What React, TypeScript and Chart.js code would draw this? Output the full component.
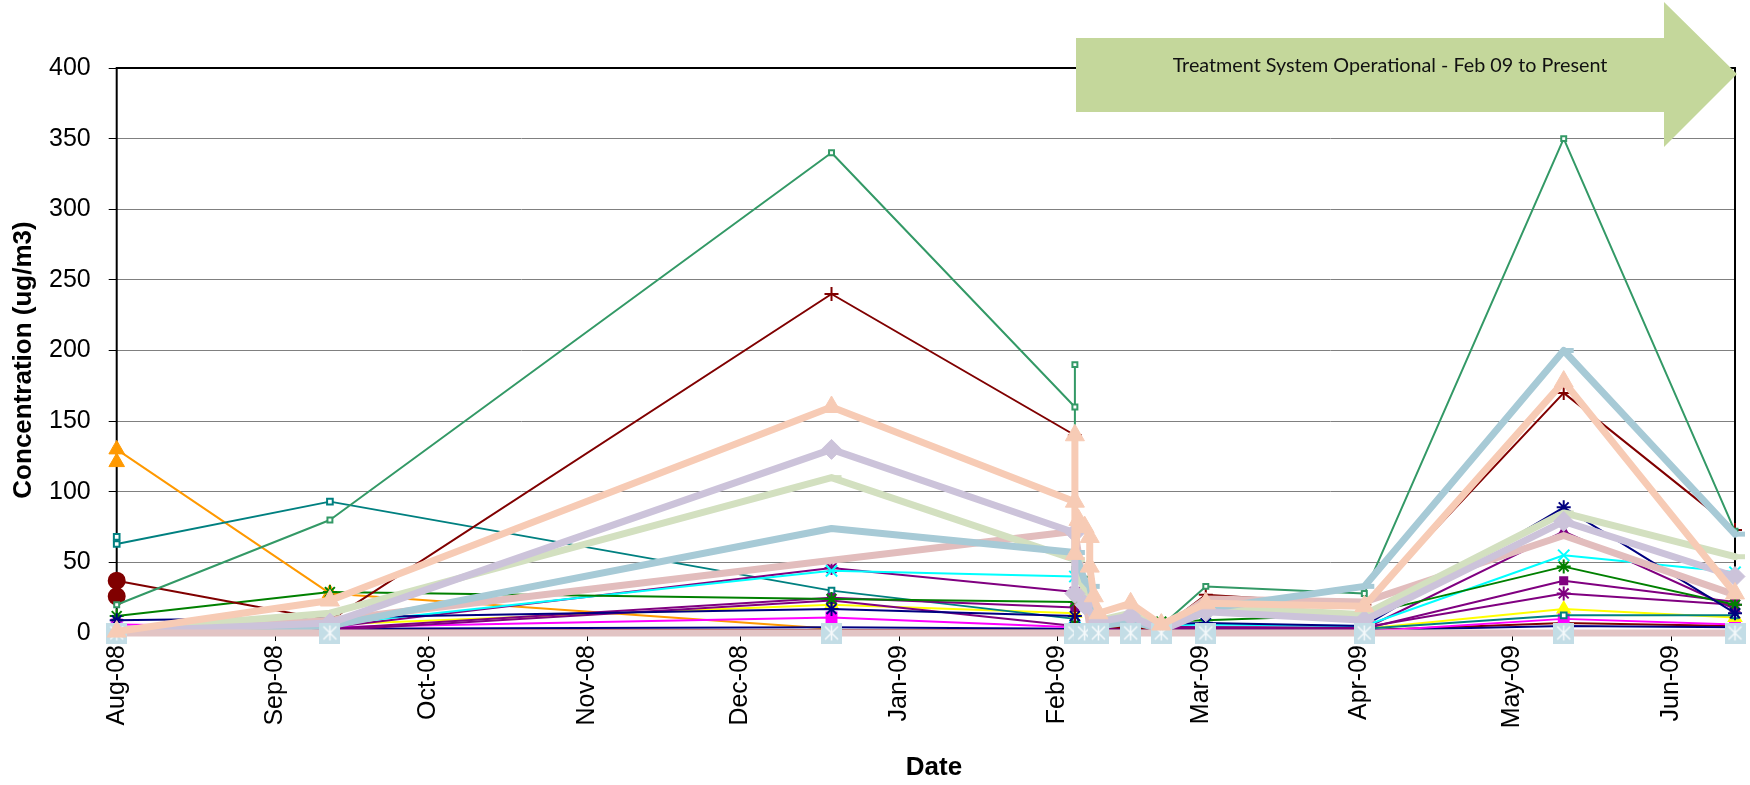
import React, { useEffect, useRef } from 'react';
import { Chart, registerables } from 'chart.js';

Chart.register(...registerables);

// Sampling dates as days after 1 Aug 2008
const AUG = 0;
const SEP = 41.7;
const DEC = 139.8;
const FEB = 187.4;
const MAR = 213;
const APR = 244;
const MAY = 283;
const JUN = 316.5;

const monthTickDays = [0, 31, 61, 92, 122, 153, 184, 212, 243, 273, 304];
const monthTickLabels = ['Aug-08', 'Sep-08', 'Oct-08', 'Nov-08', 'Dec-08', 'Jan-09', 'Feb-09', 'Mar-09', 'Apr-09', 'May-09', 'Jun-09'];
const yTickValues = [0, 50, 100, 150, 200, 250, 300, 350, 400];

// [day, concentration ug/m3]
const peachSeries: [number, number][] = [[AUG, 1], [SEP, 23], [DEC, 160], [FEB, 93], [FEB, 140], [FEB, 56], [188.1, 80], [189.3, 75], [190.3, 68], [190.3, 47], [191.1, 26], [192, 14], [198.3, 21], [204.3, 6], [MAR, 21], [APR, 19], [MAY, 178], [JUN, 28]];
const zeroSeries: [number, number][] = [[AUG, 0], [SEP, 0], [DEC, 0], [FEB, 0], [189.3, 0], [192, 0], [198.3, 0], [204.3, 0], [MAR, 0], [APR, 0], [MAY, 0], [JUN, 0]];
const lavenderSeries: [number, number][] = [[AUG, 1], [SEP, 7], [DEC, 130], [FEB, 71], [FEB, 28], [189.3, 20], [192, 8], [198.3, 12], [204.3, 2], [MAR, 15], [APR, 9], [MAY, 79], [JUN, 40]];
const lightBlueSeries: [number, number][] = [[AUG, 1], [SEP, 5], [DEC, 74], [FEB, 57], [189.3, 37], [190.3, 33], [192, 5], [198.3, 8], [204.3, 3], [MAR, 17], [APR, 33], [MAY, 200], [JUN, 70]];
const lightGreenSeries: [number, number][] = [[AUG, 2], [SEP, 14], [DEC, 110], [FEB, 52], [FEB, 42], [189.3, 32], [191.1, 8], [198.3, 14], [204.3, 3], [MAR, 19], [APR, 13], [MAY, 85], [JUN, 54]];
const pinkSeries: [number, number][] = [[AUG, 0], [SEP, 9], [FEB, 72], [190.3, 5], [198.3, 10], [204.3, 2], [MAR, 24], [APR, 22], [MAY, 69], [JUN, 27]];
const seaGreenSeries: [number, number][] = [[AUG, 20], [SEP, 80], [DEC, 340], [FEB, 160], [FEB, 190], [FEB, 45], [189.7, 38], [192, 10], [204.3, 5], [MAR, 33], [APR, 28], [MAY, 350], [JUN, 72]];
const darkRedSeries: [number, number][] = [[AUG, 26], [AUG, 37], [SEP, 9], [DEC, 240], [FEB, 140], [FEB, 5], [204.3, 3], [MAR, 27], [APR, 20], [MAY, 170], [JUN, 73]];
const navySeries: [number, number][] = [[AUG, 9], [SEP, 11], [DEC, 17], [FEB, 12], [FEB, 4], [198.3, 6], [MAR, 7], [APR, 5], [MAY, 89], [JUN, 14]];
const greenSeries: [number, number][] = [[AUG, 12], [SEP, 29], [DEC, 24], [FEB, 22], [FEB, 6], [198.3, 5], [204.3, 8], [MAR, 9], [APR, 13], [MAY, 47], [JUN, 20]];
const cyanSeries: [number, number][] = [[AUG, 3], [SEP, 6], [DEC, 44], [FEB, 40], [FEB, 4], [MAR, 6], [APR, 5], [MAY, 55], [JUN, 43]];
const purpleStarSeries: [number, number][] = [[AUG, 2], [SEP, 4], [DEC, 46], [FEB, 29], [FEB, 3], [MAR, 4], [APR, 4], [MAY, 28], [JUN, 20]];
const purpleSquareSeries: [number, number][] = [[AUG, 1], [SEP, 3], [DEC, 25], [FEB, 18], [FEB, 3], [MAR, 3], [APR, 3], [MAY, 37], [JUN, 22]];
const purpleTriSeries: [number, number][] = [[AUG, 1], [SEP, 2], [DEC, 23], [FEB, 5], [MAR, 4], [APR, 3], [MAY, 72], [JUN, 17]];
const tealSeries: [number, number][] = [[AUG, 68], [AUG, 63], [SEP, 93], [DEC, 30], [FEB, 10], [FEB, 3], [MAR, 3], [APR, 3], [MAY, 12.5], [JUN, 12.5]];
const yellowSeries: [number, number][] = [[AUG, 3], [SEP, 6], [DEC, 20], [FEB, 14], [FEB, 3], [MAR, 3], [APR, 3], [MAY, 17], [JUN, 11]];
const magentaSeries: [number, number][] = [[AUG, 6], [SEP, 4], [DEC, 11], [FEB, 4], [MAR, 2], [APR, 1], [MAY, 10], [JUN, 6]];
const navyLowSeries: [number, number][] = [[AUG, 2], [SEP, 3], [DEC, 4], [FEB, 3], [MAR, 3], [APR, 2], [MAY, 5], [JUN, 4]];
const darkRedLowSeries: [number, number][] = [[AUG, 1], [SEP, 2], [DEC, 2], [FEB, 2], [MAR, 2], [APR, 2], [MAY, 7], [JUN, 5]];
const orangeSeries: [number, number][] = [[AUG, 121], [AUG, 130], [SEP, 28], [DEC, 3]];

const annotationText = 'Treatment System Operational - Feb 09 to Present';
const xAxisTitle = 'Date';
const yAxisTitle = 'Concentration (ug/m3)';

type Opt = {
  style?: any;
  radius?: number;
  pointBorderWidth?: number;
  pointBg?: string;
  pointColor?: string;
};

function makeSet(label: string, pts: [number, number][], color: string, width: number, o: Opt = {}) {
  return {
    label,
    data: pts.map(([x, y]) => ({ x, y })),
    borderColor: color,
    backgroundColor: color,
    borderWidth: width,
    borderJoinStyle: 'round' as const,
    borderCapStyle: 'round' as const,
    pointStyle: o.style ?? 'circle',
    pointRadius: o.radius ?? 0,
    pointBorderWidth: o.pointBorderWidth ?? 2,
    pointBorderColor: o.pointColor ?? color,
    pointBackgroundColor: o.pointBg ?? o.pointColor ?? color,
    tension: 0,
    clip: false as any,
    fill: false,
  };
}

function makeZeroMarker(): HTMLCanvasElement {
  const c = document.createElement('canvas');
  c.width = 21;
  c.height = 21;
  const g = c.getContext('2d')!;
  g.fillStyle = '#C3DDE6';
  g.fillRect(0, 0, 21, 21);
  g.strokeStyle = 'rgba(255,255,255,0.85)';
  g.lineWidth = 1.5;
  g.beginPath();
  g.moveTo(4, 4); g.lineTo(17, 17);
  g.moveTo(17, 4); g.lineTo(4, 17);
  g.moveTo(10.5, 3); g.lineTo(10.5, 18);
  g.stroke();
  return c;
}

const framePlugin = {
  id: 'frameAndArrow',
  beforeDatasetsDraw(chart: any) {
    const { ctx, chartArea } = chart;
    ctx.save();
    ctx.strokeStyle = '#000';
    ctx.lineWidth = 2;
    ctx.strokeRect(chartArea.left, chartArea.top, chartArea.right - chartArea.left, chartArea.bottom - chartArea.top);
    ctx.restore();
  },
  afterDraw(chart: any) {
    const { ctx } = chart;
    ctx.save();
    // axis titles
    ctx.fillStyle = '#000';
    ctx.font = 'bold 26px "Liberation Sans", Arial';
    ctx.textAlign = 'center';
    ctx.textBaseline = 'middle';
    ctx.fillText(xAxisTitle, 934, 768);
    ctx.save();
    ctx.translate(24, 360);
    ctx.rotate(-Math.PI / 2);
    ctx.fillText(yAxisTitle, 0, 0);
    ctx.restore();
    // annotation arrow
    ctx.fillStyle = '#C4D79B';
    ctx.beginPath();
    ctx.moveTo(1076, 38);
    ctx.lineTo(1664, 38);
    ctx.lineTo(1664, 2);
    ctx.lineTo(1737, 74);
    ctx.lineTo(1664, 147);
    ctx.lineTo(1664, 112);
    ctx.lineTo(1076, 112);
    ctx.closePath();
    ctx.fill();
    ctx.font = '16px Lato';
    const w16 = ctx.measureText(annotationText).width;
    const size = 16 * 435 / w16;
    ctx.font = `${size.toFixed(2)}px Lato`;
    ctx.fillStyle = '#111';
    ctx.fillText(annotationText, 1390, 66);
    ctx.restore();
  },
};

export default function App() {
  const ref = useRef<HTMLCanvasElement>(null);
  useEffect(() => {
    const canvas = ref.current;
    if (!canvas) return;
    const zeroMarker = makeZeroMarker();
    const datasets = [
      makeSet('Peach', peachSeries, '#F7CBB5', 7, { style: 'triangle', radius: 11, pointBorderWidth: 1 }),
      makeSet('Zero', zeroSeries, '#E2C4C4', 7, { style: zeroMarker, radius: 10, pointBorderWidth: 0 }),
      makeSet('Lavender', lavenderSeries, '#CCC3DA', 7, { style: 'rectRot', radius: 10, pointBorderWidth: 1 }),
      makeSet('Light blue', lightBlueSeries, '#A7CAD6', 7, { style: 'dash', radius: 10, pointBorderWidth: 5 }),
      makeSet('Light green', lightGreenSeries, '#D3E0C0', 7, { style: 'dash', radius: 10, pointBorderWidth: 5 }),
      makeSet('Pink', pinkSeries, '#E2BDBD', 7, {}),
      makeSet('Sea green', seaGreenSeries, '#339966', 2, { style: 'rect', radius: 3.5, pointBg: '#ffffff' }),
      {
        ...makeSet('Dark red', darkRedSeries, '#800000', 2, { radius: 7 }),
        pointStyle: (c: any) => (c.dataIndex < 2 ? 'circle' : 'cross'),
        pointRadius: (c: any) => (c.dataIndex < 2 ? 8 : c.dataIndex === 5 || c.dataIndex === 6 ? 0 : 7),
      },
      makeSet('Navy', navySeries, '#000080', 2, { style: 'star', radius: 7 }),
      makeSet('Green', greenSeries, '#008000', 2, { style: 'star', radius: 7 }),
      makeSet('Cyan', cyanSeries, '#00FFFF', 2, { style: 'crossRot', radius: 8 }),
      makeSet('Purple star', purpleStarSeries, '#800080', 2, { style: 'star', radius: 7 }),
      makeSet('Purple square', purpleSquareSeries, '#800080', 2, { style: 'rect', radius: 5 }),
      makeSet('Purple triangle', purpleTriSeries, '#800080', 2, { style: 'triangle', radius: 5 }),
      makeSet('Teal', tealSeries, '#008080', 2, { style: 'rect', radius: 4, pointBg: '#ffffff' }),
      makeSet('Yellow', yellowSeries, '#FFFF00', 2, { style: 'triangle', radius: 7 }),
      makeSet('Magenta', magentaSeries, '#FF00FF', 2, { style: 'rect', radius: 7 }),
      makeSet('Navy low', navyLowSeries, '#000080', 2, {}),
      makeSet('Dark red low', darkRedLowSeries, '#800000', 2, {}),
      makeSet('Orange', orangeSeries, '#FF9900', 2, { style: 'triangle', radius: 9, pointBorderWidth: 1 }),
    ];
    const chart = new Chart(canvas, {
      type: 'line',
      data: { datasets: datasets as any },
      plugins: [framePlugin],
      options: {
        animation: false,
        responsive: false,
        devicePixelRatio: 1,
        layout: { padding: { top: 68, right: 10, left: 0, bottom: 0 } },
        plugins: { legend: { display: false }, tooltip: { enabled: false } },
        scales: {
          x: {
            type: 'linear',
            min: AUG,
            max: JUN,
            afterBuildTicks: (scale: any) => {
              scale.ticks = monthTickDays.map((v) => ({ value: v }));
            },
            afterFit: (scale: any) => {
              scale.height = 152;
            },
            ticks: {
              autoSkip: false,
              minRotation: 90,
              maxRotation: 90,
              padding: 4,
              color: '#000',
              font: { family: 'Liberation Sans, Arial', size: 25 },
              callback: (_v: any, i: number) => monthTickLabels[i],
            },
            grid: { drawOnChartArea: false, drawTicks: true, tickLength: 8, tickColor: '#000' },
            border: { display: false },
          },
          y: {
            min: 0,
            max: 400,
            afterBuildTicks: (scale: any) => {
              scale.ticks = yTickValues.map((v) => ({ value: v }));
            },
            afterFit: (scale: any) => {
              scale.width = 116.7;
            },
            ticks: {
              padding: 18,
              color: '#000',
              font: { family: 'Liberation Sans, Arial', size: 25 },
            },
            grid: {
              color: (c: any) => (c.tick && (c.tick.value === 0 || c.tick.value === 400) ? 'rgba(0,0,0,0)' : '#808080'),
              lineWidth: 1,
              tickLength: 8,
              tickColor: '#000',
            },
            border: { display: false },
          },
        },
      },
    });
    return () => chart.destroy();
  }, []);
  return (
    <div style={{ position: 'absolute', left: 0, top: 0, width: 1750, height: 785, background: '#fff' }}>
      <canvas ref={ref} width={1750} height={785} style={{ display: 'block' }} />
    </div>
  );
}
